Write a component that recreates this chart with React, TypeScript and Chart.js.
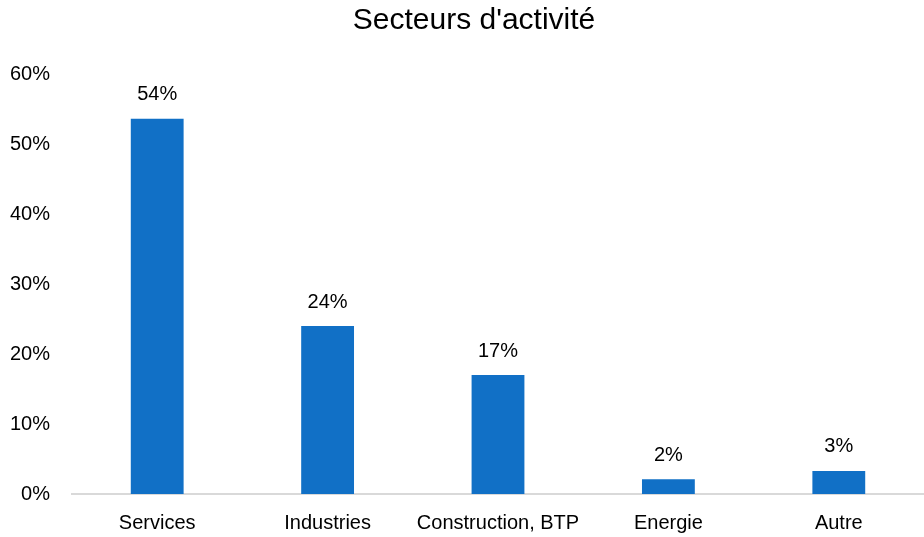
import React, { useEffect, useRef } from "react";
import { Chart, registerables } from "chart.js";

Chart.register(...registerables);

const categories = ["Services", "Industries", "Construction, BTP", "Energie", "Autre"];
const values = [53.6, 24.0, 17.0, 2.1, 3.3];
const valueLabels = ["54%", "24%", "17%", "2%", "3%"];
const yTicks = [0, 10, 20, 30, 40, 50, 60];
const title = "Secteurs d'activité";

const FONT = "'Liberation Sans', Arial, sans-serif";

const labelPlugin = {
  id: "barLabels",
  afterDatasetsDraw(chart: any) {
    const ctx = chart.ctx;
    const meta = chart.getDatasetMeta(0);
    ctx.save();
    ctx.font = `20px ${FONT}`;
    ctx.fillStyle = "#000";
    ctx.textAlign = "center";
    ctx.textBaseline = "middle";
    meta.data.forEach((bar: any, i: number) => {
      ctx.fillText(valueLabels[i], bar.x, bar.y - 24);
    });
    ctx.restore();
  },
};

const titlePlugin = {
  id: "customTitle",
  afterDraw(chart: any) {
    const ctx = chart.ctx;
    ctx.save();
    ctx.font = `30px ${FONT}`;
    ctx.fillStyle = "#000";
    ctx.textAlign = "center";
    ctx.textBaseline = "middle";
    ctx.fillText(title, chart.width / 2 + 12, 21);
    ctx.restore();
  },
};

export default function App() {
  const ref = useRef<HTMLCanvasElement>(null);
  useEffect(() => {
    document.body.style.margin = "0";
    const chart = new Chart(ref.current!, {
      type: "bar",
      data: {
        labels: categories,
        datasets: [
          {
            data: values,
            backgroundColor: "#1170C6",
            barPercentage: 0.62,
            categoryPercentage: 0.5,
          },
        ],
      },
      options: {
        animation: false,
        responsive: false,
        layout: { padding: { left: 0, right: 0, top: 74, bottom: 0 } },
        plugins: {
          legend: { display: false },
          tooltip: { enabled: false },
          title: { display: false },
        },
        scales: {
          x: {
            afterFit: (s: any) => {
              s.height = 43;
            },
            grid: { display: false, drawTicks: false },
            border: { display: true, color: "#d9d9d9", width: 2 },
            ticks: { color: "#000", font: { family: FONT, size: 20 }, padding: 17 },
          },
          y: {
            min: 0,
            max: 60,
            afterFit: (s: any) => {
              s.width = 72;
            },
            afterBuildTicks: (s: any) => {
              s.ticks = yTicks.map((v) => ({ value: v }));
            },
            grid: { display: false, drawTicks: false },
            border: { display: false },
            ticks: {
              color: "#000",
              font: { family: FONT, size: 20 },
              padding: 22,
              callback: (v: any) => `${v}%`,
            },
          },
        },
      },
      plugins: [labelPlugin, titlePlugin],
    });
    return () => chart.destroy();
  }, []);
  return (
    <div style={{ width: 924, height: 537 }}>
      <canvas ref={ref} width={924} height={537} />
    </div>
  );
}
